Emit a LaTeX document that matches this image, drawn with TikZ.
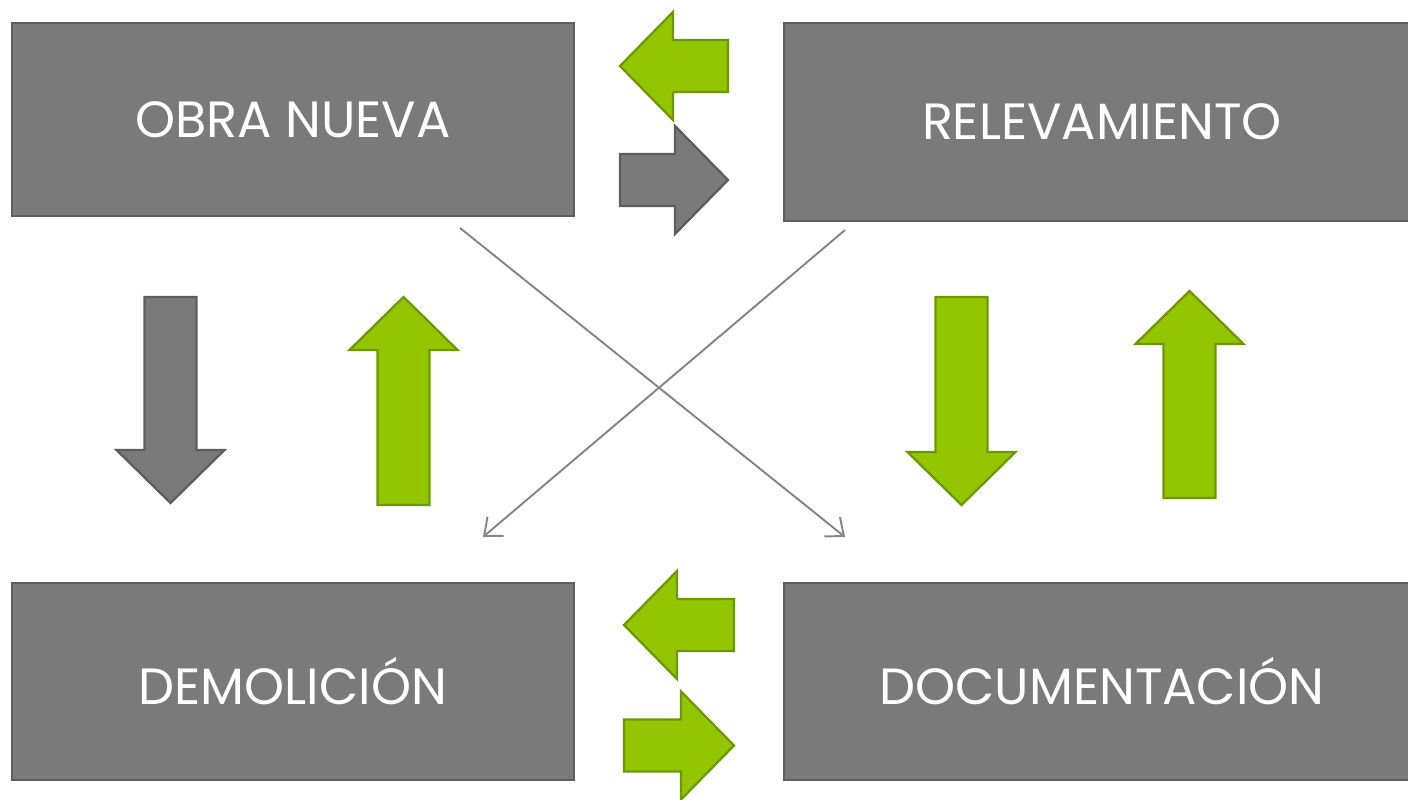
\documentclass[tikz,border=0pt]{standalone}
\usepackage{fontspec}
\setmainfont{Poppins}
\usepackage{tikz}
\usetikzlibrary{arrows.meta}
\definecolor{boxgray}{HTML}{7A7A7A}
\definecolor{boxedge}{HTML}{5E5E5E}
\definecolor{leafgreen}{HTML}{93C500}
\definecolor{leafedge}{HTML}{6A9A00}
\definecolor{linegray}{HTML}{858585}

\newcommand{\blockarrow}[5]{%
  \begin{scope}[shift={(#1,#2)}, rotate=#3]
    \draw[#5] (0,-26) -- (#4-53,-26) -- (#4-53,-54) -- (#4,0) -- (#4-53,54) -- (#4-53,26) -- (0,26) -- cycle;
  \end{scope}}

\begin{document}
\begin{tikzpicture}[
    x=0.02cm, y=0.02cm,
    box/.style={draw=boxedge, fill=boxgray, line width=1.2pt, text=white, font=\fontsize{29}{34}\selectfont, inner sep=0pt, outer sep=0pt},
    greenarrow/.style={fill=leafgreen, draw=leafedge, line width=1.3pt, line join=miter},
    grayarrow/.style={fill=boxgray, draw=boxedge, line width=1.3pt, line join=miter},
    cross/.style={draw=linegray, line width=1.1pt, -{Straight Barb[length=3mm, width=5mm]}}
]
\clip (0,0) rectangle (1408,800);

\node[box, minimum width=11.24cm, minimum height=3.86cm] (obra) at (293,680.5) {OBRA NUEVA};
\node[box, minimum width=12.72cm, minimum height=3.96cm] (relev) at (1102,678) {RELEVAMIENTO};
\node[box, minimum width=11.24cm, minimum height=3.94cm] (demol) at (293,118.5) {DEMOLICIÓN};
\node[box, minimum width=12.72cm, minimum height=3.94cm] (docum) at (1102,118.5) {DOCUMENTACIÓN};

\blockarrow{728}{734}{180}{108}{greenarrow}
\blockarrow{620}{620}{0}{108}{grayarrow}
\blockarrow{170.5}{503}{-90}{206}{grayarrow}
\blockarrow{403.5}{295}{90}{208}{greenarrow}
\blockarrow{961.5}{503}{-90}{208}{greenarrow}
\blockarrow{1189.5}{302}{90}{207}{greenarrow}
\blockarrow{734}{175}{180}{110}{greenarrow}
\blockarrow{624}{54.5}{0}{110}{greenarrow}

\coordinate (obraout) at (460,572);
\coordinate (docin) at (845,263);
\coordinate (relout) at (845,570);
\coordinate (demin) at (483,263);

\draw[cross] (obraout) -- (docin);
\draw[cross] (relout) -- (demin);

\end{tikzpicture}
\end{document}
